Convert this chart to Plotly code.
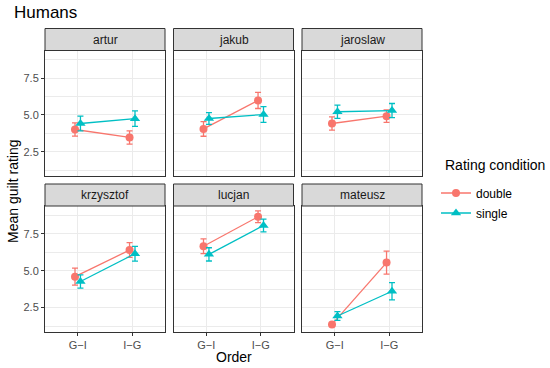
import plotly.graph_objects as go
from plotly.subplots import make_subplots

# ---- data ----
panels = ["artur", "jakub", "jaroslaw", "krzysztof", "lucjan", "mateusz"]
order_labels = ["G−I", "I−G"]
order_pos = [1, 2]

double_mean = {
    "artur": [4.01, 3.47], "jakub": [4.05, 5.99], "jaroslaw": [4.42, 4.92],
    "krzysztof": [4.60, 6.40], "lucjan": [6.66, 8.66], "mateusz": [1.36, 5.55],
}
double_err = {
    "artur": [0.45, 0.45], "jakub": [0.50, 0.55], "jaroslaw": [0.45, 0.42],
    "krzysztof": [0.58, 0.50], "lucjan": [0.50, 0.40], "mateusz": [0.11, 0.78],
}
single_mean = {
    "artur": [4.42, 4.75], "jakub": [4.76, 5.03], "jaroslaw": [5.22, 5.30],
    "krzysztof": [4.27, 6.15], "lucjan": [6.11, 8.07], "mateusz": [1.93, 3.61],
}
single_err = {
    "artur": [0.50, 0.53], "jakub": [0.40, 0.54], "jaroslaw": [0.45, 0.48],
    "krzysztof": [0.45, 0.50], "lucjan": [0.45, 0.43], "mateusz": [0.30, 0.58],
}
y_ticks = [2.5, 5.0, 7.5]
y_tick_text = ["2.5", "5.0", "7.5"]
y_minor = [1.25, 3.75, 6.25, 8.75]

RED = "#F8766D"
CYAN = "#00BFC4"
W, H = 550, 368
FONT = "Liberation Sans, Arial, sans-serif"

series = [
    ("double", double_mean, double_err, RED, "circle", -0.05),
    ("single", single_mean, single_err, CYAN, "triangle-up", 0.05),
]

fig = make_subplots(rows=2, cols=3)

xdom_px = [(45, 165), (173.5, 293.5), (302, 422)]
ydom_px = [(50.5, 175.7), (206, 331.7)]
strip_px = [(28.5, 50.5), (184, 206)]

for i, p in enumerate(panels):
    r, c = i // 3 + 1, i % 3 + 1
    for name, means, errs, col, sym, dx in series:
        fig.add_trace(go.Scatter(
            x=[v + dx for v in order_pos], y=means[p],
            mode="lines+markers",
            name=name, legendgroup=name, showlegend=(i == 0),
            line=dict(color=col, width=1.3),
            marker=dict(color=col, symbol=sym, size=8 if sym == "circle" else 9),
            error_y=dict(type="data", array=errs[p], color=col, thickness=1.3, width=3),
        ), row=r, col=c)

for i in range(6):
    r, c = i // 3, i % 3
    ax = "" if i == 0 else str(i + 1)
    x0, x1 = xdom_px[c]
    y0, y1 = ydom_px[r]
    fig.layout["xaxis" + ax].update(
        domain=[x0 / W, x1 / W], range=[0.4, 2.6],
        tickvals=order_pos, ticktext=order_labels,
        showticklabels=(r == 1), ticks="outside" if r == 1 else "",
        ticklen=3, tickcolor="#333333",
        showgrid=True, gridcolor="#EBEBEB", gridwidth=1,
        showline=True, mirror=True, linecolor="#333333", linewidth=1,
        zeroline=False, tickfont=dict(size=11, color="#4D4D4D", family=FONT),
    )
    fig.layout["yaxis" + ax].update(
        domain=[1 - y1 / H, 1 - y0 / H], range=[0.865, 9.39],
        tickvals=y_ticks, ticktext=y_tick_text,
        showticklabels=(c == 0), ticks="outside" if c == 0 else "",
        ticklen=3, tickcolor="#333333",
        showgrid=True, gridcolor="#EBEBEB", gridwidth=1,
        minor=dict(tickvals=y_minor, showgrid=True, gridcolor="#EBEBEB", gridwidth=0.5),
        showline=True, mirror=True, linecolor="#333333", linewidth=1,
        zeroline=False, tickfont=dict(size=11, color="#4D4D4D", family=FONT),
    )
    s0, s1 = strip_px[r]
    fig.add_shape(type="rect", xref="paper", yref="paper",
                  x0=x0 / W, x1=x1 / W, y0=1 - s1 / H, y1=1 - s0 / H,
                  fillcolor="#D9D9D9", line=dict(color="#333333", width=1))
    fig.add_annotation(text=panels[i], xref="paper", yref="paper",
                       x=(x0 + x1) / 2 / W, y=1 - (s0 + s1) / 2 / H,
                       showarrow=False, xanchor="center", yanchor="middle",
                       font=dict(size=12, color="#1A1A1A", family=FONT))

fig.add_annotation(text="Order", xref="paper", yref="paper",
                   x=233.5 / W, y=1 - 357 / H, showarrow=False,
                   xanchor="center", yanchor="middle",
                   font=dict(size=14, color="black", family=FONT))
fig.add_annotation(text="Mean guilt rating", xref="paper", yref="paper",
                   x=13 / W, y=1 - 191 / H, showarrow=False, textangle=-90,
                   xanchor="center", yanchor="middle",
                   font=dict(size=14, color="black", family=FONT))
fig.add_annotation(text="Humans", xref="paper", yref="paper",
                   x=12 / W, y=1 - 12 / H, showarrow=False,
                   xanchor="left", yanchor="middle",
                   font=dict(size=17, color="black", family=FONT))
fig.add_annotation(text="Rating condition", xref="paper", yref="paper",
                   x=443 / W, y=1 - 165 / H, showarrow=False,
                   xanchor="left", yanchor="middle",
                   font=dict(size=14, color="black", family=FONT))

fig.update_layout(
    width=W, height=H,
    margin=dict(l=0, r=0, t=0, b=0),
    plot_bgcolor="white", paper_bgcolor="white",
    font=dict(family=FONT),
    legend=dict(
        x=436 / W, y=1 - 178.5 / H, xanchor="left", yanchor="top",
        font=dict(size=12, color="black", family=FONT),
        bgcolor="rgba(0,0,0,0)", tracegroupgap=1,
        itemwidth=30,
    ),
)

fig.write_html("out.html",
               config={"displayModeBar": False},
               post_script="document.body.style.margin='0';document.body.style.padding='0';")
